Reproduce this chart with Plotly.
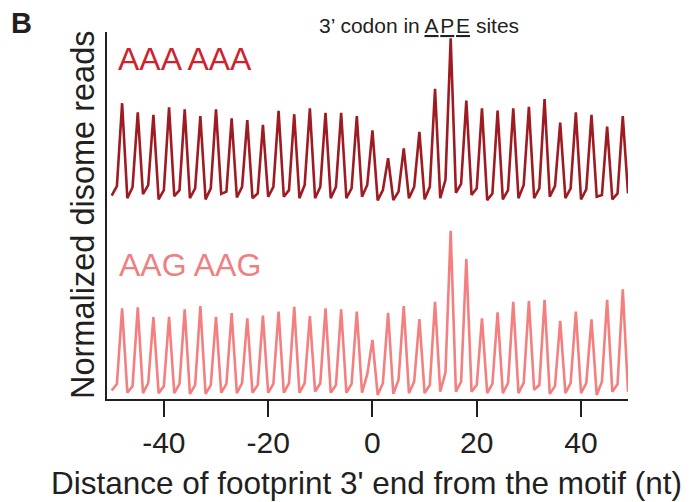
import plotly.graph_objects as go

positions = list(range(-50, 50))

aaa_aaa = [5.54, 5.80, 8.06, 5.47, 5.77, 7.81, 5.58, 5.83, 7.74, 5.44,
           5.69, 7.95, 5.53, 5.69, 7.89, 5.47, 5.74, 7.71, 5.44, 5.74,
           7.89, 5.59, 5.65, 7.65, 5.49, 5.78, 7.60, 5.47, 5.60, 7.47,
           5.51, 5.78, 7.85, 5.51, 5.69, 7.76, 5.47, 5.83, 7.92, 5.47,
           5.78, 7.80, 5.47, 5.78, 7.80, 5.47, 5.74, 7.71, 5.51, 5.83,
           7.32, 5.41, 5.69, 6.56, 5.42, 5.65, 6.83, 5.47, 5.78, 7.28,
           5.44, 5.78, 8.45, 5.47, 5.97, 9.83, 5.62, 5.86, 8.13, 5.56,
           5.74, 7.92, 5.42, 5.60, 7.86, 5.44, 5.69, 7.92, 5.47, 5.83,
           7.96, 5.47, 5.74, 8.17, 5.51, 5.80, 7.53, 5.47, 5.74, 7.81,
           5.44, 5.71, 7.74, 5.51, 5.56, 7.42, 5.44, 5.60, 7.71, 5.60]

aag_aag = [0.23, 0.41, 2.47, 0.17, 0.35, 2.50, 0.16, 0.43, 2.23, 0.16,
           0.35, 2.24, 0.16, 0.41, 2.44, 0.14, 0.38, 2.53, 0.14, 0.38,
           2.24, 0.17, 0.41, 2.34, 0.16, 0.43, 2.20, 0.17, 0.38, 2.27,
           0.17, 0.41, 2.38, 0.17, 0.43, 2.51, 0.17, 0.43, 2.26, 0.20,
           0.43, 2.47, 0.17, 0.38, 2.44, 0.17, 0.41, 2.38, 0.17, 0.67,
           1.61, 0.11, 0.43, 2.35, 0.14, 0.52, 2.53, 0.16, 0.47, 2.18,
           0.16, 0.38, 2.65, 0.20, 0.72, 4.58, 0.20, 0.47, 3.81, 0.20,
           0.38, 2.20, 0.16, 0.41, 2.36, 0.16, 0.43, 2.65, 0.16, 0.44,
           2.67, 0.25, 0.38, 2.70, 0.14, 0.35, 2.13, 0.16, 0.43, 2.38,
           0.16, 0.43, 2.17, 0.11, 0.47, 2.70, 0.20, 0.41, 2.99, 0.20]

x_ticks = [-40, -20, 0, 20, 40]
x_tick_labels = ["-40", "-20", "0", "20", "40"]
series_names = ["AAA AAA", "AAG AAG"]

FONT = "Liberation Sans, Arial, Helvetica, sans-serif"
DARK = "#231f20"

fig = go.Figure()
fig.add_trace(go.Scatter(x=positions, y=aaa_aaa, mode="lines", name=series_names[0],
                         line=dict(color="#9e1b22", width=2.6)))
fig.add_trace(go.Scatter(x=positions, y=aag_aag, mode="lines", name=series_names[1],
                         line=dict(color="#f47f7f", width=2.6)))

OFF = 8  # page body margin
W, H = 685, 494
# plot area in page pixels: left 107, right 628, top 32, bottom 399
ml, mt = 107 - OFF, 32 - OFF
mr = W - (628 - OFF)
mb = H - (399 - OFF)
pw, ph = W - ml - mr, H - mt - mb

def px_x(p):
    return (p - OFF - ml) / pw

def px_y(p):
    return (H - mb - (p - OFF)) / ph

fig.update_layout(
    width=W, height=H,
    margin=dict(l=ml, r=mr, t=mt, b=mb, pad=0),
    plot_bgcolor="white", paper_bgcolor="white",
    showlegend=False,
    font=dict(family=FONT, color=DARK),
    xaxis=dict(range=[-50.9, 49.0], tickvals=x_ticks, ticktext=x_tick_labels,
               ticks="outside", ticklen=16,
               tickwidth=2, tickcolor=DARK, showline=True, linecolor=DARK, linewidth=2,
               showgrid=False, zeroline=False, tickfont=dict(size=30, color=DARK, family=FONT)),
    yaxis=dict(range=[0, 10], showticklabels=False, ticks="", showline=True,
               linecolor=DARK, linewidth=2, showgrid=False, zeroline=False),
)

annots = [
    dict(text="Distance of footprint 3' end from the motif (nt)", x=px_x(366.5), y=px_y(483),
         font=dict(size=31.5, color=DARK, family=FONT)),
    dict(text="Normalized disome reads", x=px_x(83), y=px_y(215), textangle=-90,
         font=dict(size=32.5, color=DARK, family=FONT)),
    dict(text=series_names[0], x=px_x(116), y=px_y(59), xanchor="left",
         font=dict(size=32, color="#d0222c", family=FONT)),
    dict(text=series_names[1], x=px_x(117), y=px_y(265), xanchor="left",
         font=dict(size=32, color="#f07f7f", family=FONT)),
    dict(text="3\u2019 codon in <u>A</u>\u200a<u>P</u>\u200a<u>E</u> sites", x=px_x(419), y=px_y(25),
         font=dict(size=21, color=DARK, family=FONT)),
    dict(text="<b>B</b>", x=px_x(21), y=px_y(23),
         font=dict(size=29, color=DARK, family=FONT)),
]
for a in annots:
    a.setdefault("xanchor", "center")
    a.setdefault("yanchor", "middle")
    fig.add_annotation(xref="paper", yref="paper", showarrow=False, **a)

fig.write_html("out.html")
